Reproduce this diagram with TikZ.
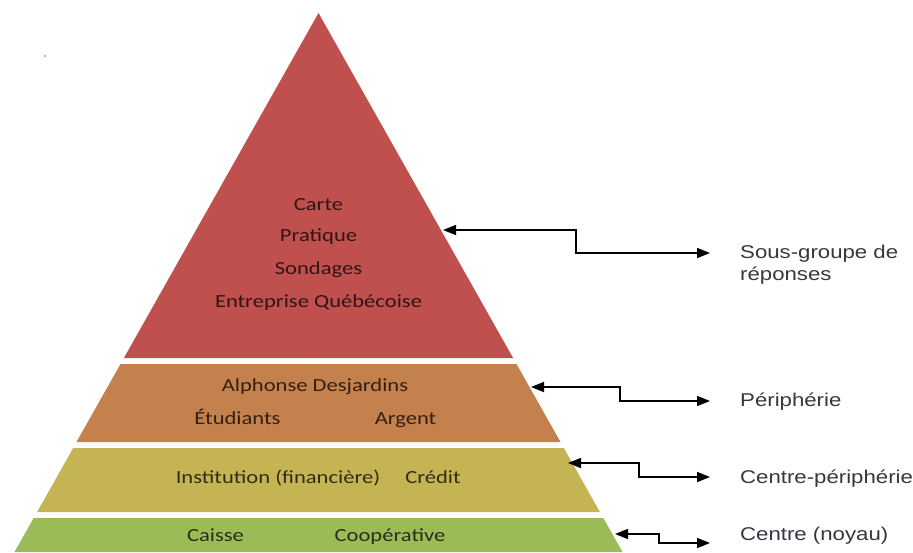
\documentclass[tikz,border=0pt]{standalone}
\usepackage{fontspec}
\usetikzlibrary{arrows.meta}
\newfontfamily\calfont{Carlito}[FakeStretch=1.22]
\newfontfamily\arifont{Liberation Sans}[FakeStretch=1.2]
\definecolor{cred}{HTML}{C0504D}
\definecolor{corange}{HTML}{C4814E}
\definecolor{colive}{HTML}{C4B454}
\definecolor{cgreen}{HTML}{9BBB59}
\definecolor{labelgray}{HTML}{3A3540}
\begin{document}
\begin{tikzpicture}[x=1pt,y=-1pt,
  layertext/.style={font=\calfont\fontsize{18.5}{20}\selectfont, text=black, text opacity=0.75, anchor=base, inner sep=0pt},
  sidelabel/.style={font=\arifont\fontsize{18.5}{22}\selectfont, text=labelgray, anchor=base west, inner sep=0pt},
  conn/.style={line width=1.6pt, {Triangle[length=13pt,width=10pt]}-{Triangle[length=13pt,width=10pt]}}]
\useasboundingbox (0,0) rectangle (913,552);
\fill[white] (0,0) rectangle (913,552);
% layers
\fill[cred] (318.5,13) -- (513.1,358) -- (123.9,358) -- cycle;
\fill[corange] (120.5,364) -- (516.5,364) -- (560.5,442) -- (76.5,442) -- cycle;
\fill[colive] (73.2,448) -- (563.8,448) -- (599.9,512) -- (37.1,512) -- cycle;
\fill[cgreen] (33.7,518) -- (603.3,518) -- (622.5,552) -- (14.5,552) -- cycle;
% small marks
\fill[black!55] (45,56) circle (0.9);
\fill[black!50] (312,366) circle (0.7);
% layer texts
\node[layertext] (carte) at (318.5,210.5) {Carte};
\node[layertext] (pratique) at (318.5,241.7) {Pratique};
\node[layertext] (sondages) at (318.5,274) {Sondages};
\node[layertext] (entreprise) at (318.5,307.7) {Entreprise Québécoise};
\node[layertext] (alphonse) at (315,391.5) {Alphonse Desjardins};
\node[layertext] (etudiants) at (237.5,424) {Étudiants};
\node[layertext] (argent) at (405.5,424) {Argent};
\node[layertext] (institution) at (278,483.5) {Institution (financière)};
\node[layertext] (credit) at (433,483.5) {Crédit};
\node[layertext] (caisse) at (215.5,541) {Caisse};
\node[layertext] (coop) at (390,541) {Coopérative};
% side labels
\node[sidelabel] (l1a) at (740,258.3) {Sous-groupe de};
\node[sidelabel] (l1b) at (740,280) {réponses};
\node[sidelabel] (l2) at (740,406.7) {Périphérie};
\node[sidelabel] (l3) at (740,483) {Centre-périphérie};
\node[sidelabel] (l4) at (740,540) {Centre (noyau)};
% connector ends
\coordinate (t1) at (443,230); \coordinate (h1) at (710,253);
\coordinate (t2) at (531,387); \coordinate (h2) at (710,401);
\coordinate (t3) at (568,463); \coordinate (h3) at (710,477);
\coordinate (t4) at (615,534); \coordinate (h4) at (710,543);
\draw[conn] (t1) -- ++(133,0) |- (h1);
\draw[conn] (t2) -- ++(89,0) |- (h2);
\draw[conn] (t3) -- ++(71,0) |- (h3);
\draw[conn] (t4) -- ++(44,0) |- (h4);
\end{tikzpicture}
\end{document}
